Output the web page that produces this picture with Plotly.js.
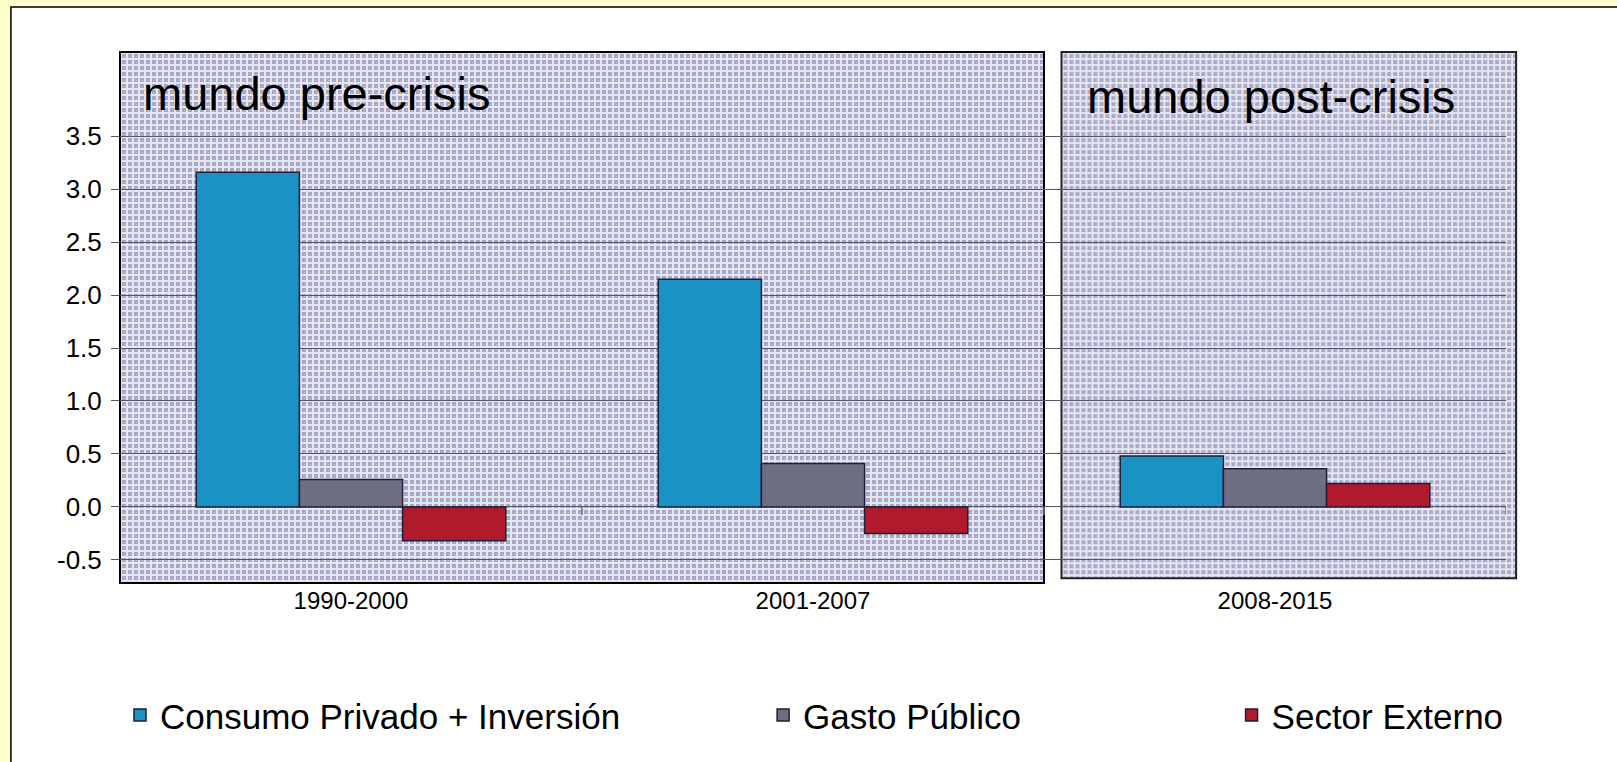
<!DOCTYPE html>
<html>
<head>
<meta charset="utf-8">
<script src="https://cdn.plot.ly/plotly-3.0.1.min.js"></script>
<style>
  html, body { margin: 0; padding: 0; background: #ffffcc; }
  #chart { width: 1617px; height: 762px; }
</style>
</head>
<body>
<div id="chart"></div>
<script>
// ---- data ----
const periods = ["1990-2000", "2001-2007", "2008-2015"];
const consumoInversion = [3.16, 2.15, 0.48];
const gastoPublico = [0.26, 0.41, 0.36];
const sectorExterno = [-0.32, -0.25, 0.22];
const seriesNames = ["Consumo Privado + Inversión", "Gasto Público", "Sector Externo"];
const yTickVals = [-0.5, 0, 0.5, 1, 1.5, 2, 2.5, 3, 3.5];
const yTickText = ["-0.5", "0.0", "0.5", "1.0", "1.5", "2.0", "2.5", "3.0", "3.5"];
const panelLabels = ["mundo pre-crisis", "mundo post-crisis"];

const FONT = "Liberation Sans, Arial, sans-serif";
const lineCol = "#1e1e3a";

// lavender cross-hatch texture used as panel background
function hatch(w, h) {
  const svg = '<svg xmlns="http://www.w3.org/2000/svg" width="' + w + '" height="' + h + '">' +
    '<defs><pattern id="p" width="6" height="6" patternUnits="userSpaceOnUse">' +
    '<rect width="6" height="6" fill="#a6a6c9"/>' +
    '<rect x="0" y="0" width="2" height="6" fill="#e6e6f0"/>' +
    '<rect x="0" y="0" width="6" height="2" fill="#e6e6f0"/>' +
    '<rect x="4" y="4" width="1" height="1" fill="#c4c4dc"/>' +
    '</pattern></defs><rect width="100%" height="100%" fill="url(#p)"/></svg>';
  return 'data:image/svg+xml;charset=utf-8,' + encodeURIComponent(svg);
}

const traces = [
  { type: "bar", x: periods, y: consumoInversion, name: seriesNames[0], legend: "legend",
    marker: { color: "#1a93c4", line: { color: lineCol, width: 1.5 } } },
  { type: "bar", x: periods, y: gastoPublico, name: seriesNames[1], legend: "legend2",
    marker: { color: "#6e6e82", line: { color: lineCol, width: 1.5 } } },
  { type: "bar", x: periods, y: sectorExterno, name: seriesNames[2], legend: "legend3",
    marker: { color: "#b01a2c", line: { color: lineCol, width: 1.5 } } }
];

// tick marks on the zero line at the category boundaries
const boundaryTicks = periods.map((p, i) => ({
  type: "line", xref: "x", yref: "y", x0: i + 0.5, x1: i + 0.5,
  ysizemode: "pixel", yanchor: 0, y0: 0, y1: -8,
  line: { color: "#707080", width: 1.5 }, layer: "above"
}));

const legendBase = { orientation: "h", yanchor: "middle", y: -0.249, xanchor: "left",
  bgcolor: "rgba(0,0,0,0)", font: { family: FONT, size: 35, color: "#000" } };

const layout = {
  width: 1617, height: 762,
  margin: { l: 120, r: 111, t: 52, b: 179 },
  paper_bgcolor: "#ffffff",
  plot_bgcolor: "#ffffff",
  barmode: "group", bargap: 0.33, bargroupgap: 0,
  font: { family: FONT, color: "#000" },
  xaxis: {
    type: "category", range: [-0.5, 2.5], showgrid: false, showline: false, zeroline: false,
    ticks: "", tickfont: { family: FONT, size: 24, color: "#000" }, ticklabelstandoff: 1
  },
  yaxis: {
    range: [-0.718, 4.294], tickvals: yTickVals, ticktext: yTickText,
    showgrid: true, gridcolor: "#55556a", gridwidth: 1, zeroline: false, showline: false,
    ticks: "outside", ticklen: 8, tickcolor: "#555", tickwidth: 1,
    tickfont: { family: FONT, size: 26, color: "#000" }, ticklabelstandoff: 4
  },
  showlegend: true,
  legend: Object.assign({}, legendBase, { x: 0.0 }),
  legend2: Object.assign({}, legendBase, { x: 0.464 }),
  legend3: Object.assign({}, legendBase, { x: 0.802 }),
  images: [
    { source: hatch(924, 531), xref: "paper", yref: "paper", x: 0, y: 1, sizex: 2 / 3, sizey: 1,
      xanchor: "left", yanchor: "top", sizing: "stretch", layer: "below" },
    { source: hatch(455, 526), xref: "paper", yref: "paper", x: 0.6793, y: 1, sizex: 0.328, sizey: 0.9911,
      xanchor: "left", yanchor: "top", sizing: "stretch", layer: "below" }
  ],
  shapes: [
    // yellow page strips (left and top) around the white card
    { type: "rect", xref: "paper", yref: "paper", x0: -0.2, x1: -0.0787, y0: -0.5, y1: 1.2,
      fillcolor: "#ffffcc", line: { width: 0 }, layer: "below" },
    { type: "rect", xref: "paper", yref: "paper", x0: -0.2, x1: 1.2, y0: 1.0847, y1: 1.2,
      fillcolor: "#ffffcc", line: { width: 0 }, layer: "below" },
    // white card border
    { type: "rect", xref: "paper", yref: "paper", x0: -0.0787, x1: 1.2, y0: -0.5, y1: 1.0847,
      fillcolor: "rgba(0,0,0,0)", line: { color: "#000", width: 1.5 }, layer: "below" },
    // pre-crisis panel frame
    { type: "rect", xref: "paper", yref: "paper", x0: 0, x1: 2 / 3, y0: 0, y1: 1,
      fillcolor: "rgba(0,0,0,0)", line: { color: "#000", width: 2 }, layer: "below" },
    // post-crisis panel frame
    { type: "rect", xref: "paper", yref: "paper", x0: 0.6793, x1: 1.0073, y0: 0.0089, y1: 1,
      fillcolor: "rgba(0,0,0,0)", line: { color: "#222", width: 2 }, layer: "below" }
  ].concat(boundaryTicks),
  annotations: [
    { text: panelLabels[0], xref: "paper", yref: "paper", x: 0.0152, y: 0.9222,
      xanchor: "left", yanchor: "middle", showarrow: false,
      font: { family: FONT, size: 47, color: "#000" } },
    { text: panelLabels[1], xref: "paper", yref: "paper", x: 0.6963, y: 0.917,
      xanchor: "left", yanchor: "middle", showarrow: false,
      font: { family: FONT, size: 47, color: "#000" } }
  ]
};

Plotly.newPlot("chart", traces, layout, { displayModeBar: false, staticPlot: true });
</script>
</body>
</html>
